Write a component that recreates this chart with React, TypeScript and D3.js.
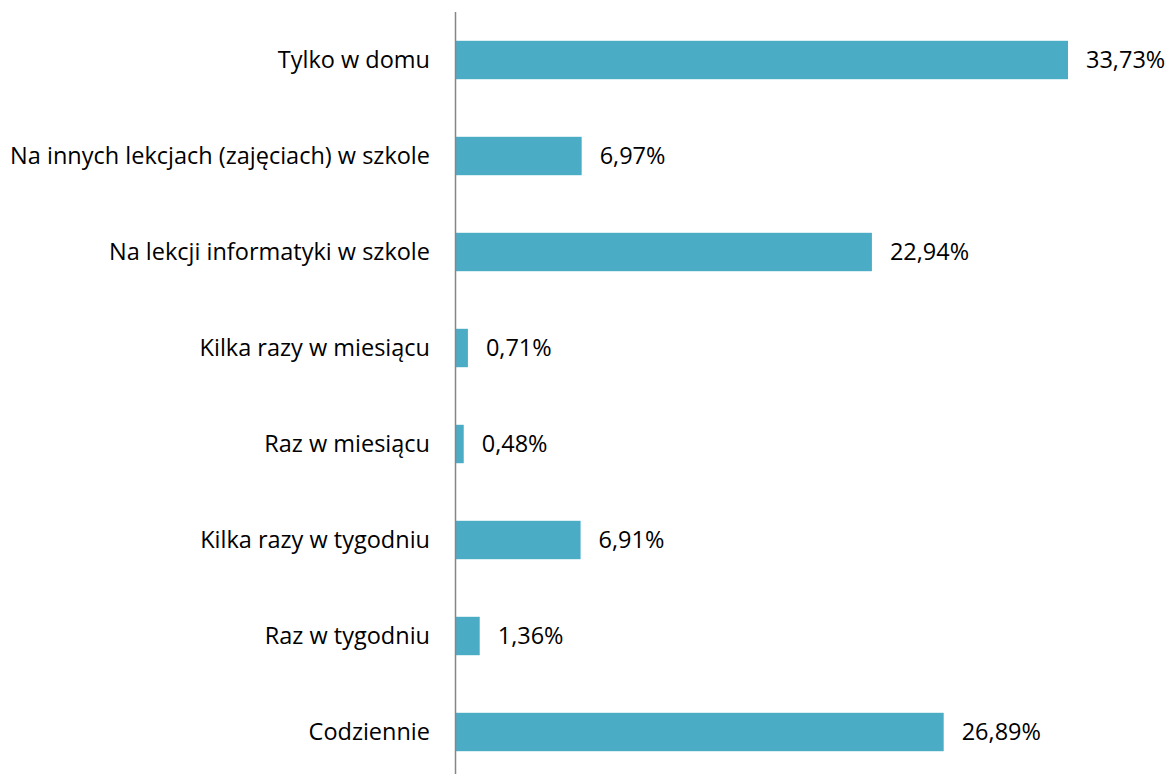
import React from "react";
import * as d3 from "d3";

const categories = [
  "Tylko w domu",
  "Na innych lekcjach (zajęciach) w szkole",
  "Na lekcji informatyki w szkole",
  "Kilka razy w miesiącu",
  "Raz w miesiącu",
  "Kilka razy w tygodniu",
  "Raz w tygodniu",
  "Codziennie",
];
const values = [33.73, 6.97, 22.94, 0.71, 0.48, 6.91, 1.36, 26.89];

const W = 1176;
const H = 774;
const FONT = "'Open Sans', sans-serif";
const FS = 23.5;

export default function App() {
  const x = d3.scaleLinear().domain([0, 33.73]).range([455, 1068]);
  const y = d3.scaleBand<string>().domain(categories).range([12, 780]).paddingInner(0.6).paddingOuter(0.3);
  const fmt = (v: number) => v.toFixed(2).replace(".", ",") + "%";
  return (
    <svg width={W} height={H} style={{ position: "absolute", left: 0, top: 0, background: "#fff" }}>
      {categories.map((c, i) => {
        const yy = y(c)!;
        const cy = yy + y.bandwidth() / 2;
        return (
          <g key={c}>
            <rect x={x(0)} y={yy} width={x(values[i]) - x(0)} height={y.bandwidth()} fill="#4BACC6" />
            <text x={430} y={cy} dy="0.36em" textAnchor="end" fontFamily={FONT} fontSize={FS} fill="#000">
              {c}
            </text>
            <text x={x(values[i]) + 18} y={cy} dy="0.36em" fontFamily={FONT} fontSize={FS} fill="#000">
              {fmt(values[i])}
            </text>
          </g>
        );
      })}
      <line x1={455.5} x2={455.5} y1={12} y2={780} stroke="#868686" strokeWidth={1.5} />
    </svg>
  );
}
